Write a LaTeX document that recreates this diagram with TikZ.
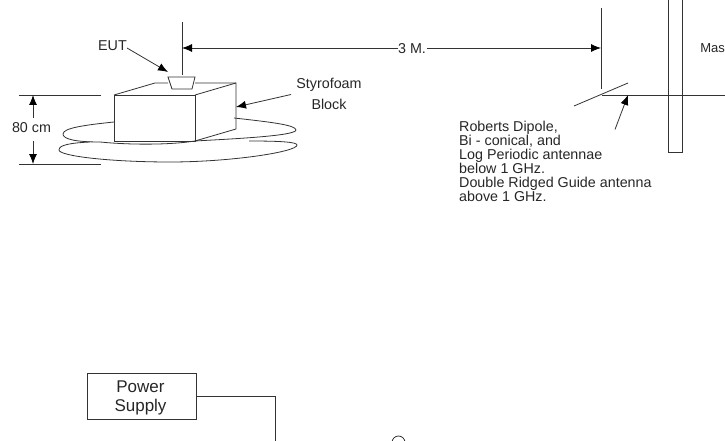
\documentclass[tikz,border=0pt]{standalone}
\usepackage{fontspec}
\setmainfont{Liberation Sans}
\usetikzlibrary{arrows.meta}
\tikzset{
  ln/.style={line width=0.8pt,black!80},
  arr/.style={ln,-{Latex[length=10pt,width=8pt,black]}},
  lbl/.style={inner sep=0pt,text=black!85,font=\fontsize{14.3}{14}\selectfont},
  pslbl/.style={inner sep=0pt,anchor=base,text=black!85,font=\fontsize{17}{19}\selectfont},
}
\begin{document}
\begin{tikzpicture}[x=1pt,y=-1pt]
\useasboundingbox (0,0) rectangle (725,441);
\clip (0,0) rectangle (725,441);
% EUT
\draw[ln] (182,22) -- (182,75);
\draw[ln] (168,77) -- (195,77) -- (192,89) -- (172,89) -- cycle;
\node[lbl] (eut) at (112.5,46) {EUT};
\coordinate (euttip) at (168,72);
\draw[arr] (127,48) -- (euttip);
% box
\draw[ln] (114,95) rectangle (195,141);
\draw[ln] (114,95) -- (155,83) -- (168,83);
\draw[ln] (195,83) -- (236,83) -- (236,129) -- (195,141);
\draw[ln] (195,95) -- (236,83);
% ellipses
\draw[ln] (114,122) .. controls (85,125) and (63,128) .. (63,134) .. controls (63,139) and (75,142) .. (100,142);
\draw[ln] (100,142) .. controls (130,145) and (170,145) .. (195,141) .. controls (230,139) and (296,136) .. (296,130) .. controls (296,125) and (270,122) .. (234,118);
\draw[ln] (90,142) .. controls (70,143) and (59,145) .. (59,150) .. controls (59,156) and (110,162) .. (170,162) .. controls (230,162) and (297,152) .. (297,145) .. controls (297,142) and (280,141) .. (249,141);
% 80 cm
\draw[ln] (19,95) -- (101,95);
\draw[ln] (19,164) -- (101,164);
\node[lbl] (h) at (31.5,127.5) {80 cm};
\coordinate (htop) at (33,95);
\coordinate (hbot) at (33,164);
\draw[arr] (33,118) -- (htop);
\draw[arr] (33,141) -- (hbot);
% 3 M
\node[lbl,inner xsep=0pt] (d) at (412,49) {3 M.};
\coordinate (dl) at (182,48);
\coordinate (dr) at (601,48);
\coordinate (da) at (398,48);
\coordinate (db) at (427,48);
\draw[arr] (da) -- (dl);
\draw[arr] (db) -- (dr);
% Styrofoam
\node[lbl] (s1) at (329,84.5) {Styrofoam};
\node[lbl] (s2) at (329,104.5) {Block};
\coordinate (stip) at (236,107);
\draw[arr] (291,94.5) -- (stip);
% antenna
\draw[ln] (601,8) -- (601,89);
\draw[ln] (574,106) -- (628,83);
\draw[ln] (602,95) -- (725,95);
\draw[ln] (668,0) -- (668,152) -- (682,152) -- (682,0);
\node[lbl,anchor=west,font=\fontsize{13}{14}\selectfont] (m) at (700.2,48) {Mas};
\coordinate (atip) at (628,95);
\draw[arr] (615,129.5) -- (atip);
\node[lbl,anchor=north west,align=left] (r) at (459,120.5) {Roberts Dipole,\\Bi - conical, and\\Log Periodic antennae\\below 1 GHz.\\Double Ridged Guide antenna\\above 1 GHz.};
% power supply
\node[ln,draw,minimum width=109pt,minimum height=46pt,inner sep=0pt] (ps) at (141.5,396) {};
\node[pslbl] (p1) at (140.5,392.3) {Power};
\node[pslbl] (p2) at (140.5,411.5) {Supply};
\coordinate (pc) at (275,396);
\coordinate (pe) at (275,441);
\draw[ln] (ps.east) -- (pc) -- (pe);
\node[ln,draw,circle,minimum size=13pt,inner sep=0pt] (c) at (398.5,442.5) {};
\end{tikzpicture}
\end{document}
